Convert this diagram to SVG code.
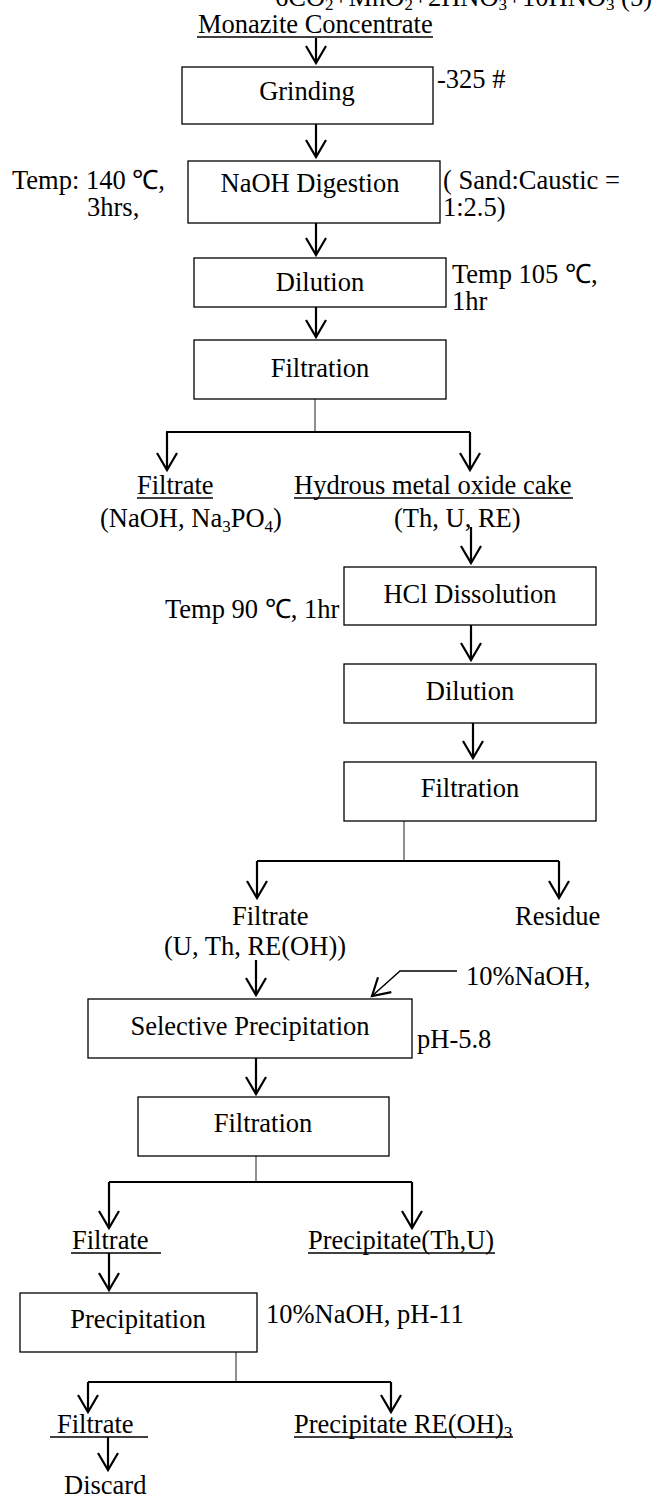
<svg xmlns="http://www.w3.org/2000/svg" width="659" height="1497" viewBox="0 0 659 1497">
<style>
text{font-family:"Liberation Serif","Times New Roman",serif;font-size:26.5px;fill:#000}
.c{text-anchor:middle}
.box{fill:#fff;stroke:#000;stroke-width:1.3}
.ul{stroke:#000;stroke-width:1.5}
.arr{stroke:#000;stroke-width:2.2;fill:none;marker-end:url(#ah)}
.stem{stroke:#444;stroke-width:1.2;fill:none}
.bar{stroke:#000;stroke-width:1.8;fill:none}
.sub{font-size:17px}
</style>
<defs>
<marker id="ah" markerUnits="userSpaceOnUse" markerWidth="24" markerHeight="24" viewBox="-20 -12 24 24" refX="0" refY="0" orient="auto" overflow="visible">
<path d="M-17,-10 L0,0 L-17,10" fill="none" stroke="#000" stroke-width="2.2"/>
</marker>
</defs>
<rect width="659" height="1497" fill="#fff"/>

<g id="clipped-top">
<text x="275" y="6">6CO<tspan class="sub" dy="4">2</tspan><tspan dy="-4">+MnO</tspan><tspan class="sub" dy="4">2</tspan><tspan dy="-4">+2HNO</tspan><tspan class="sub" dy="4">3</tspan><tspan dy="-4">+10HNO</tspan><tspan class="sub" dy="4">3</tspan><tspan dy="-4"> (5)</tspan></text>
</g>

<g id="connectors">
<line class="arr" x1="316" y1="38" x2="316" y2="63"/>
<line class="arr" x1="316" y1="124" x2="316" y2="157"/>
<line class="arr" x1="316" y1="223" x2="316" y2="255"/>
<line class="arr" x1="316" y1="307" x2="316" y2="337"/>
<polyline class="stem" points="315,399 315,432"/>
<polyline class="bar" points="167,470 167,432 470,432"/>
<line class="arr" x1="167" y1="432" x2="167" y2="470"/>
<line class="arr" x1="470" y1="432" x2="470" y2="470"/>
<line class="arr" x1="471" y1="527" x2="471" y2="563"/>
<line class="arr" x1="471" y1="625" x2="471" y2="660"/>
<line class="arr" x1="473" y1="723" x2="473" y2="758"/>
<polyline class="stem" points="404,821 404,861"/>
<polyline class="bar" points="257,861 559,861"/>
<line class="arr" x1="257" y1="861" x2="257" y2="898"/>
<line class="arr" x1="559" y1="861" x2="559" y2="898"/>
<line class="arr" x1="256" y1="960" x2="256" y2="995"/>
<polyline class="arr" points="457,971 400,971 372,996" style="stroke-width:1.5"/>
<line class="arr" x1="256" y1="1058" x2="256" y2="1094"/>
<polyline class="stem" points="256,1156 256,1182"/>
<polyline class="bar" points="109,1182 412,1182"/>
<line class="arr" x1="109" y1="1182" x2="109" y2="1228"/>
<line class="arr" x1="412" y1="1182" x2="412" y2="1228"/>
<line class="arr" x1="109" y1="1253" x2="109" y2="1290"/>
<polyline class="stem" points="236,1352 236,1382"/>
<polyline class="bar" points="88,1382 391,1382"/>
<line class="arr" x1="88" y1="1382" x2="88" y2="1412"/>
<line class="arr" x1="391" y1="1382" x2="391" y2="1412"/>
<line class="arr" x1="108" y1="1437" x2="108" y2="1470"/>
</g>

<g id="monazite">
<text x="198" y="33">Monazite Concentrate</text>
<line class="ul" x1="197" y1="37" x2="433" y2="37"/>
</g>

<g id="grinding">
<rect class="box" x="182" y="67" width="251" height="57"/>
<text class="c" x="307" y="100">Grinding</text>
</g>
<g id="grinding-note"><text x="437" y="88">-325 #</text></g>

<g id="naoh-digestion">
<rect class="box" x="188" y="161" width="252" height="62"/>
<text class="c" x="310" y="192">NaOH Digestion</text>
</g>
<g id="digestion-temp">
<text x="12" y="189">Temp: 140 ℃,</text>
<text x="87" y="216">3hrs,</text>
</g>
<g id="digestion-ratio">
<text x="443" y="189">( Sand:Caustic =</text>
<text x="443" y="216"> 1:2.5)</text>
</g>

<g id="dilution1">
<rect class="box" x="194" y="258" width="252" height="49"/>
<text class="c" x="320" y="291">Dilution</text>
</g>
<g id="dilution1-note">
<text x="452" y="283">Temp 105 ℃,</text>
<text x="452" y="310">1hr</text>
</g>

<g id="filtration1">
<rect class="box" x="194" y="340" width="252" height="59"/>
<text class="c" x="320" y="377">Filtration</text>
</g>

<g id="filtrate1">
<text x="137" y="494">Filtrate</text>
<line class="ul" x1="137" y1="498" x2="213" y2="498"/>
<text x="100" y="527">(NaOH, Na<tspan class="sub" dy="5">3</tspan><tspan dy="-5">PO</tspan><tspan class="sub" dy="5">4</tspan><tspan dy="-5">)</tspan></text>
</g>

<g id="hydrous-cake">
<text x="294" y="494">Hydrous metal oxide cake</text>
<line class="ul" x1="294" y1="498" x2="573" y2="498"/>
<text x="394" y="527">(Th, U, RE)</text>
</g>

<g id="hcl-dissolution">
<rect class="box" x="344" y="567" width="252" height="58"/>
<text class="c" x="470" y="603">HCl Dissolution</text>
</g>
<g id="hcl-note"><text x="165" y="618">Temp 90 ℃, 1hr</text></g>

<g id="dilution2">
<rect class="box" x="344" y="664" width="252" height="59"/>
<text class="c" x="470" y="700">Dilution</text>
</g>

<g id="filtration2">
<rect class="box" x="344" y="762" width="252" height="59"/>
<text class="c" x="470" y="797">Filtration</text>
</g>

<g id="filtrate2">
<text x="232" y="925">Filtrate</text>
<text x="164" y="955">(U, Th, RE(OH))</text>
</g>
<g id="residue"><text x="515" y="925">Residue</text></g>

<g id="naoh-add"><text x="466" y="985">10%NaOH,</text></g>

<g id="selective-precipitation">
<rect class="box" x="88" y="999" width="324" height="59"/>
<text class="c" x="250" y="1035">Selective Precipitation</text>
</g>
<g id="ph58"><text x="417" y="1048">pH-5.8</text></g>

<g id="filtration3">
<rect class="box" x="138" y="1097" width="251" height="59"/>
<text class="c" x="263" y="1132">Filtration</text>
</g>

<g id="filtrate3">
<text x="72" y="1249">Filtrate </text>
<line class="ul" x1="71" y1="1253" x2="161" y2="1253"/>
</g>
<g id="precipitate-thu">
<text x="308" y="1249">Precipitate(Th,U)</text>
<line class="ul" x1="308" y1="1253" x2="495" y2="1253"/>
</g>

<g id="precipitation">
<rect class="box" x="20" y="1293" width="237" height="59"/>
<text class="c" x="138" y="1328">Precipitation</text>
</g>
<g id="ph11"><text x="266" y="1323">10%NaOH, pH-11</text></g>

<g id="filtrate4">
<text x="57" y="1433">Filtrate </text>
<line class="ul" x1="50" y1="1437" x2="148" y2="1437"/>
</g>
<g id="precipitate-re">
<text x="294" y="1433">Precipitate RE(OH)<tspan class="sub" dy="5">3</tspan></text>
<line class="ul" x1="294" y1="1437" x2="513" y2="1437"/>
</g>

<g id="discard"><text x="64" y="1494">Discard</text></g>
</svg>
